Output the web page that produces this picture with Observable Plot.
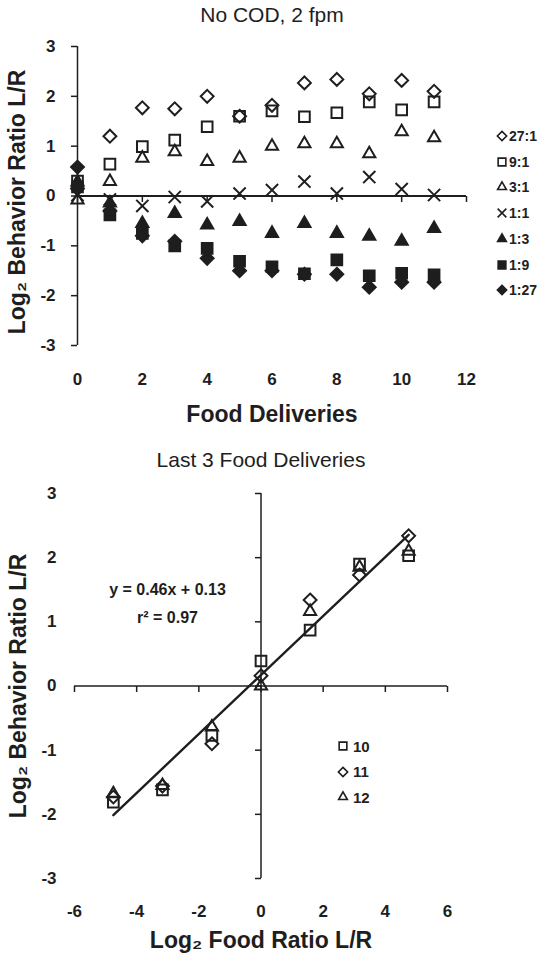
<!DOCTYPE html>
<html>
<head>
<meta charset="utf-8">
<script src="https://cdn.jsdelivr.net/npm/d3@7"></script>
<script src="https://cdn.jsdelivr.net/npm/@observablehq/plot@0.6"></script>
<style>
  body { margin: 0; background: #fff; }
  #wrap { position: relative; width: 544px; height: 956px; font-family: "Liberation Sans", Arial, sans-serif; color: #222; }
  #wrap svg { display: block; }
  .legend { position: absolute; font-weight: bold; }
  .legend .row { position: absolute; display: flex; align-items: center; white-space: nowrap; }
</style>
</head>
<body>
<div id="wrap">
  <div id="chart1"></div>
  <div id="chart2"></div>
</div>
<script>
// ---- datos: grafico de arriba (No COD, 2 fpm) ----
const deliveries = [0, 1, 2, 3, 4, 5, 6, 7, 8, 9, 10, 11]
const ratioNames = ["27:1", "9:1", "3:1", "1:1", "1:3", "1:9", "1:27"]
const r27_1 = [0.15, 1.2, 1.77, 1.75, 2.0, 1.6, 1.82, 2.27, 2.34, 2.05, 2.32, 2.1]
const r9_1  = [0.3, 0.64, 0.99, 1.12, 1.39, 1.6, 1.71, 1.59, 1.67, 1.89, 1.73, 1.89]
const r3_1  = [-0.08, 0.29, 0.76, 0.89, 0.69, 0.76, 1.0, 1.05, 1.05, 0.85, 1.29, 1.17]
const r1_1  = [0.02, -0.07, -0.2, -0.02, -0.11, 0.05, 0.12, 0.29, 0.05, 0.38, 0.14, 0.02]
const r1_3  = [0.28, -0.14, -0.55, -0.35, -0.58, -0.51, -0.75, -0.55, -0.75, -0.81, -0.91, -0.65]
const r1_9  = [0.18, -0.38, -0.75, -1.0, -1.05, -1.31, -1.42, -1.56, -1.28, -1.6, -1.55, -1.58]
const r1_27 = [0.58, -0.3, -0.8, -0.91, -1.25, -1.5, -1.5, -1.57, -1.57, -1.83, -1.73, -1.73]
const topXTicks = [0, 2, 4, 6, 8, 10, 12]
const yTicks = [-3, -2, -1, 0, 1, 2, 3]

// ---- datos: grafico de abajo (Last 3 Food Deliveries) ----
const foodRatio = [4.75, 3.17, 1.58, 0, -1.58, -3.17, -4.75]
const lastNames = ["10", "11", "12"]
const fd10 = [2.03, 1.9, 0.87, 0.39, -0.77, -1.62, -1.81]
const fd11 = [2.34, 1.73, 1.34, 0.16, -0.9, -1.56, -1.73]
const fd12 = [2.1, 1.85, 1.16, 0.0, -0.64, -1.55, -1.68]
const bottomXTicks = [-6, -4, -2, 0, 2, 4, 6]

const ink = "#1e1e1e"
const font = "Liberation Sans, Arial, sans-serif"

const symbolTypes = {
  diamond2: d3.symbolDiamond2, square2: d3.symbolSquare2,
  triangle2: d3.symbolTriangle2, times: d3.symbolTimes
}
const openDiamond = {symbol: "diamond2", r: 5.8, filled: false}
const openSquare = {symbol: "square2", r: 6.8, filled: false}
const openTriangle = {symbol: "triangle2", r: 5.8, filled: false}
const topLooks = [
  openDiamond, openSquare, openTriangle,
  {symbol: "times", r: 5.6, filled: false},
  {symbol: "triangle2", r: 5.8, filled: true},
  {symbol: "square2", r: 6.8, filled: true},
  {symbol: "diamond2", r: 5.8, filled: true}
]
const lastLooks = [openSquare, openDiamond, openTriangle]

const topSeries = [r27_1, r9_1, r3_1, r1_1, r1_3, r1_9, r1_27]
  .map((values, i) => ({name: ratioNames[i], values, ...topLooks[i]}))
const lastSeries = [fd10, fd11, fd12]
  .map((values, i) => ({name: lastNames[i], values, ...lastLooks[i]}))

// marcas de tick sobre los ejes que cruzan en 0
const tickDown = {draw(ctx) { ctx.moveTo(0, 0); ctx.lineTo(0, 6) }}
const tickLeft = {draw(ctx) { ctx.moveTo(0, 0); ctx.lineTo(-6, 0) }}

const fmt = d => String(d)

function seriesDots(xs, s) {
  return Plot.dot(xs, {
    x: d => d, y: (d, i) => s.values[i],
    symbol: s.symbol, r: s.r,
    fill: s.filled ? ink : "none", stroke: ink, strokeWidth: 2
  })
}

let plot1 = Plot.plot({
  width: 544, height: 448,
  marginTop: 46, marginBottom: 103, marginLeft: 77, marginRight: 78,
  x: {domain: [0, 12]},
  y: {domain: [-3, 3]},
  style: {fontFamily: font, fontSize: "17px", fontWeight: "bold", color: ink, background: "white"},
  marks: [
    Plot.axisX({ticks: topXTicks, tickSize: 0, tickPadding: 27, tickFormat: fmt, label: null}),
    Plot.axisY({ticks: yTicks, anchor: "left", tickSize: 6, tickPadding: 16, tickFormat: fmt, label: null, strokeWidth: 1.5}),
    Plot.ruleX([0], {stroke: ink, strokeWidth: 1.5}),
    Plot.ruleY([0], {stroke: ink, strokeWidth: 1.8}),
    Plot.dot(topXTicks, {x: d => d, y: () => 0, symbol: tickDown, r: 3, fill: "none", stroke: ink, strokeWidth: 1.5}),
    ...topSeries.map(s => seriesDots(deliveries, s)),
    Plot.text(["No COD, 2 fpm"], {frameAnchor: "top", dy: -31, textAnchor: "middle", lineAnchor: "middle", fontSize: 21, fontWeight: "normal"}),
    Plot.text(["Food Deliveries"], {frameAnchor: "bottom", dy: 69, textAnchor: "middle", lineAnchor: "middle", fontSize: 23}),
    Plot.text(["Log₂ Behavior Ratio L/R"], {frameAnchor: "left", dx: -60, dy: 6, rotate: -90, textAnchor: "middle", lineAnchor: "middle", fontSize: 23})
  ]
})
d3.select('#chart1').append(() => plot1)

let plot2 = Plot.plot({
  width: 544, height: 508,
  marginTop: 45, marginBottom: 78, marginLeft: 74, marginRight: 97,
  x: {domain: [-6, 6]},
  y: {domain: [-3, 3]},
  style: {fontFamily: font, fontSize: "17px", fontWeight: "bold", color: ink, background: "white"},
  marks: [
    Plot.axisX({ticks: bottomXTicks, tickSize: 0, tickPadding: 26, tickFormat: fmt, label: null}),
    Plot.axisY({ticks: yTicks, anchor: "left", tickSize: 0, tickPadding: 18, tickFormat: fmt, label: null}),
    Plot.ruleX([0], {stroke: ink, strokeWidth: 1.5}),
    Plot.ruleY([0], {stroke: ink, strokeWidth: 1.5}),
    Plot.dot(bottomXTicks, {x: d => d, y: () => 0, symbol: tickDown, r: 3, fill: "none", stroke: ink, strokeWidth: 1.5}),
    Plot.dot(yTicks, {x: () => 0, y: d => d, symbol: tickLeft, r: 3, fill: "none", stroke: ink, strokeWidth: 1.5}),
    ...lastSeries.map(s => seriesDots(foodRatio, s)),
    Plot.linearRegressionY(
      lastSeries.flatMap(s => s.values.map((v, i) => ({x: foodRatio[i], y: v}))),
      {x: "x", y: "y", ci: 0, stroke: ink, strokeWidth: 2.4}
    ),
    Plot.text(["y = 0.46x + 0.13"], {frameAnchor: "top-left", dx: 93, dy: 96, textAnchor: "middle", lineAnchor: "middle", fontSize: 16}),
    Plot.text(["r² = 0.97"], {frameAnchor: "top-left", dx: 93, dy: 124, textAnchor: "middle", lineAnchor: "middle", fontSize: 16}),
    Plot.text(["Last 3 Food Deliveries"], {frameAnchor: "top", dy: -33, textAnchor: "middle", lineAnchor: "middle", fontSize: 21, fontWeight: "normal"}),
    Plot.text(["Log₂ Food Ratio L/R"], {frameAnchor: "bottom", dy: 62, textAnchor: "middle", lineAnchor: "middle", fontSize: 23}),
    Plot.text(["Log₂ Behavior Ratio L/R"], {frameAnchor: "left", dx: -56, rotate: -90, textAnchor: "middle", lineAnchor: "middle", fontSize: 23})
  ]
})
d3.select('#chart2').append(() => plot2)

// leyendas
function legend(items, left, top, step, fontSize, gap, scale) {
  const box = d3.select('#wrap').append('div').attr('class', 'legend')
    .style('left', left + 'px').style('top', top + 'px').style('font-size', fontSize + 'px')
  items.forEach((s, i) => {
    const row = box.append('div').attr('class', 'row')
      .style('top', (i * step - 7) + 'px').style('height', '14px')
    const r = s.r * scale
    row.append('svg').attr('width', 12).attr('height', 14)
      .append('path')
      .attr('transform', 'translate(6,7)')
      .attr('d', d3.symbol(symbolTypes[s.symbol], Math.PI * r * r)())
      .attr('fill', s.filled ? ink : 'none')
      .attr('stroke', ink).attr('stroke-width', 1.6)
    row.append('span').style('margin-left', gap + 'px').text(s.name)
  })
}
legend(topSeries, 496, 136, 25.7, 14, 1, 0.72)
legend(lastSeries, 337, 746, 25.5, 15, 4, 0.72)
</script>
</body>
</html>
